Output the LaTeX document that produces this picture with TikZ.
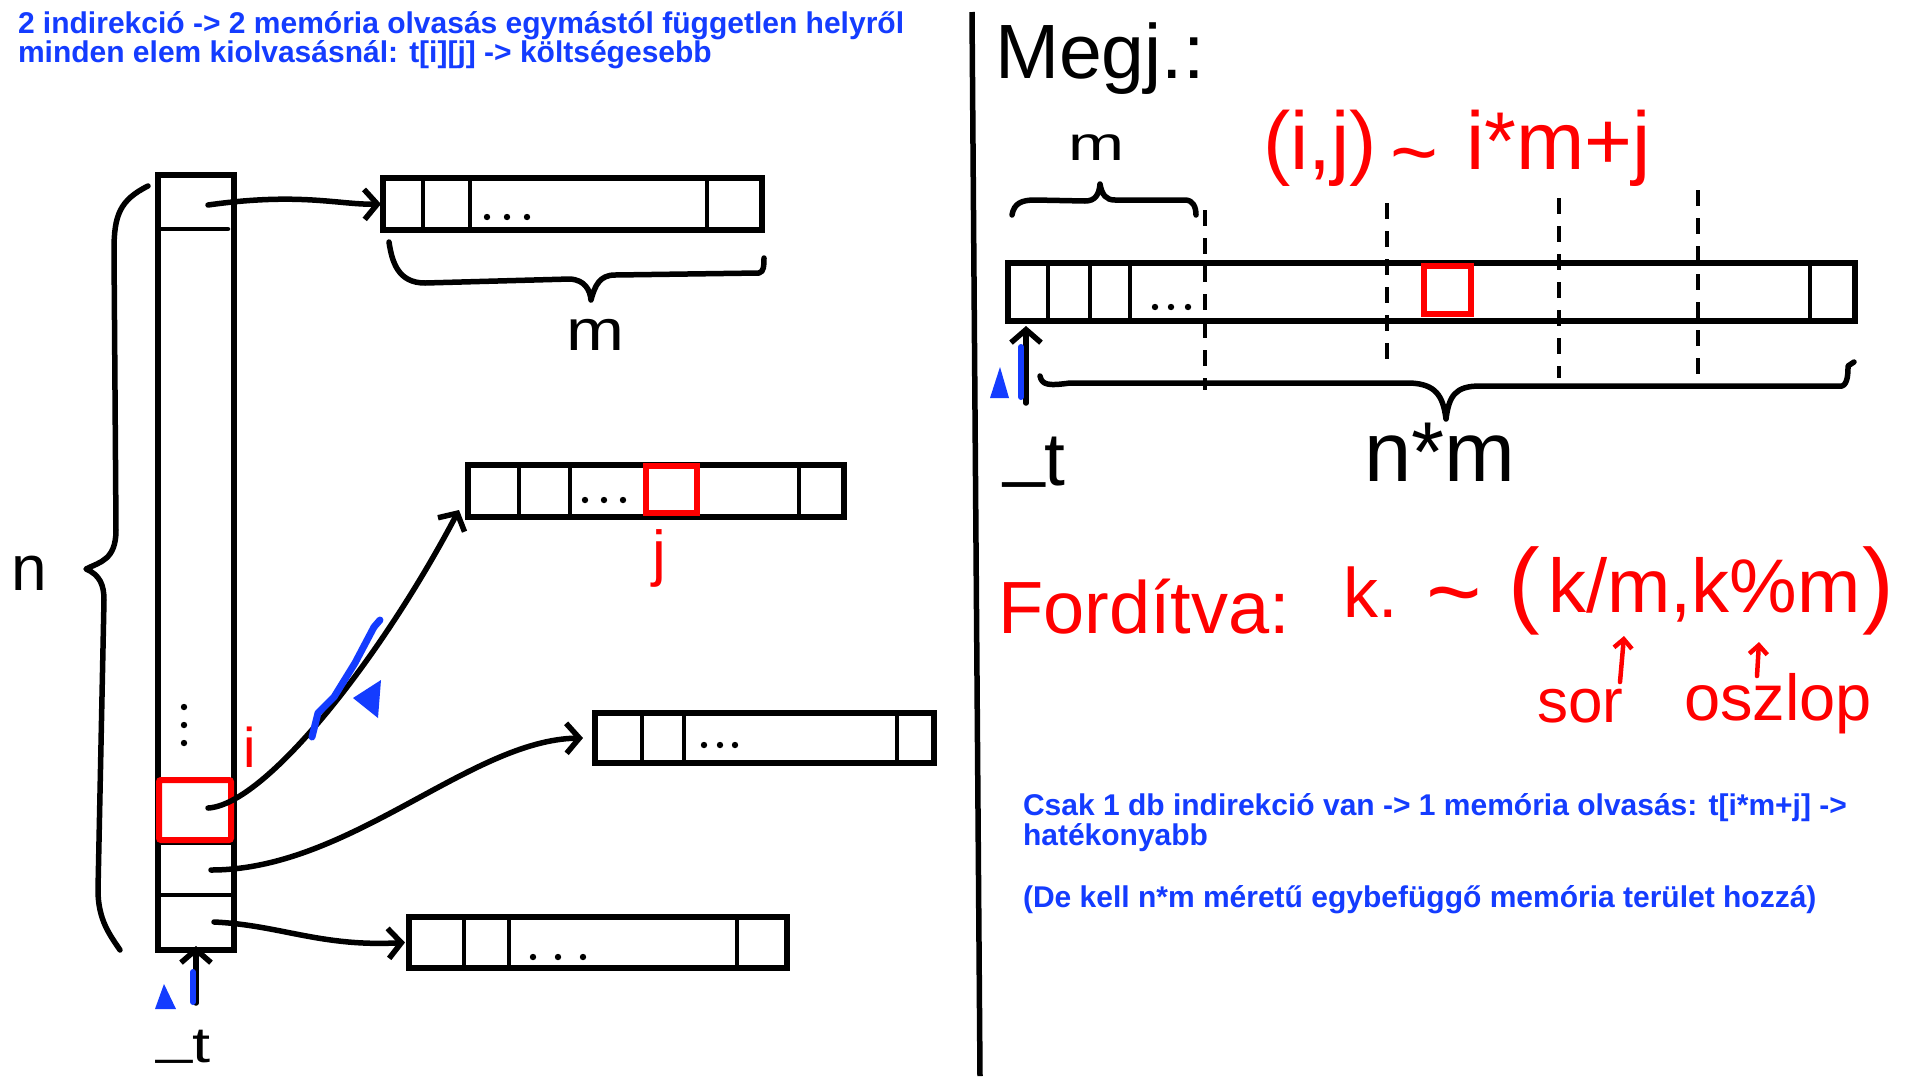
\documentclass[tikz,border=0pt]{standalone}
\usepackage{fontspec}
\usepackage{graphicx}
\setmainfont{Liberation Sans}
\usetikzlibrary{arrows.meta}
\definecolor{myblue}{RGB}{20,60,255}
\definecolor{myred}{RGB}{255,0,0}
\tikzset{
  ink/.style={line width=5.5pt, line cap=round, line join=round},
  arr/.style={draw, line width=6.5pt, inner sep=0pt, outer sep=0pt, anchor=north west},
  cell/.style={line width=4.5pt, line cap=round},
  ptr/.style={ink, -{Straight Barb[length=13pt,width=30pt]}},
  sptr/.style={line width=4.5pt, line cap=round, draw=myred, -{Straight Barb[length=9pt,width=18pt]}},
  hand/.style={inner sep=0pt, outer sep=0pt, anchor=base west},
  redbox/.style={draw=myred, line width=6pt},
  bluetxt/.style={text=myblue, font=\fontsize{30}{30}\selectfont\bfseries, inner sep=0pt, outer sep=0pt, anchor=base west},
  dashline/.style={line width=4.5pt, dash pattern=on 16pt off 12pt},
}
\newcommand{\fs}[1]{\fontsize{#1}{#1}\selectfont}
\newcommand{\ut}{\raisebox{0.17em}{\_}t}
\begin{document}
\begin{tikzpicture}[x=1pt,y=-1pt]
\useasboundingbox (0,0) rectangle (1920,1080);
\fill[white] (0,0) rectangle (1920,1080);

% ---------- titles ----------
\node[bluetxt] (title1) at (18,33) {2 indirekció -> 2 memória olvasás egymástól független helyről};
\node[bluetxt] (title2) at (18,62) {minden elem kiolvasásnál: t[i][j] -> költségesebb};

% ---------- divider ----------
\draw[line width=5.5pt] (972,12) -- (980,1076);

% ---------- pointer column ----------
\node[arr, minimum width=76pt, minimum height=775pt] (col) at (158,175) {};
\draw[cell] (158,229) -- (228,229);
\draw[cell] (159,843) -- (234,843);
\draw[cell] (159,895) -- (234,895);
\draw[redbox, rounded corners=2pt] (159,780) rectangle (231,840);
\foreach \y in {707,725,743} \fill (184,\y) circle (3.2);

% ---------- row arrays ----------
\node[arr, minimum width=379pt, minimum height=52pt] (a1) at (383,178) {};
\foreach \x in {423,470,707} \draw[cell] (\x,178) -- (\x,230);
\foreach \x in {487,507,527} \fill (\x,217) circle (3.2);

\node[arr, minimum width=376pt, minimum height=52pt] (a2) at (468,465) {};
\foreach \x in {519,570,799} \draw[cell] (\x,465) -- (\x,517);
\foreach \x in {585,604,623} \fill (\x,500) circle (3.2);
\draw[redbox] (646,466) rectangle (697,513);

\node[arr, minimum width=339pt, minimum height=50pt] (a3) at (595,713) {};
\foreach \x in {642,684,897} \draw[cell] (\x,713) -- (\x,763);
\foreach \x in {704,720,735} \fill (\x,745) circle (3.2);

\node[arr, minimum width=378pt, minimum height=51pt] (a4) at (409,917) {};
\foreach \x in {464,509,737} \draw[cell] (\x,917) -- (\x,968);
\foreach \x in {533,558,583} \fill (\x,957) circle (3.2);

% ---------- pointers ----------
\coordinate (p1) at (208,205);
\coordinate (p2) at (208,808);
\coordinate (p3) at (211,870);
\coordinate (p4) at (214,922);
\draw[ptr] (p1) .. controls (300,192) and (340,205) .. ([xshift=-2pt]a1.west);
\draw[ptr] (p2) .. controls (265,805) and (380,660) .. ([xshift=-9pt,yshift=7pt]a2.south west);
\draw[ptr] (p3) .. controls (350,870) and (470,740) .. ([xshift=-12pt]a3.west);
\draw[ptr] (p4) .. controls (280,925) and (320,947) .. ([xshift=-4pt]a4.west);

\draw[myblue, line width=7pt, line cap=round, line join=round] (312,737) -- (318,713) -- (334,697) -- (355,663) -- (374,627) -- (380,620);
\fill[myblue] (353,698) -- (381,680) -- (378,718) -- cycle;

% ---------- labels left ----------
\node[hand, text=myred, font=\fs{56}] (ilab) at (243,767) {i};
\node[hand, text=myred, font=\fs{62}] (jlab) at (652,574) {j};
\node[hand, font=\fs{64}] (nlab) at (12,590) {n};
\node[anchor=base, inner sep=0pt, font=\fs{58}] (mlab1) at (595,350) {\scalebox{1.2}[1]{m}};

% n brace
\draw[ink] (148,186) .. controls (120,200) and (114,215) .. (114,250) -- (116,530)
  .. controls (116,560) and (100,562) .. (86,569) .. controls (100,575) and (104,585) .. (104,600)
  -- (98,890) .. controls (98,920) and (110,935) .. (120,950);

% m brace under a1
\draw[ink] (389,242) .. controls (392,262) and (398,283) .. (425,283) -- (570,279)
  .. controls (585,280) and (590,290) .. (591,300) .. controls (595,285) and (600,275) .. (615,275)
  -- (759,273) .. controls (764,272) and (764,265) .. (764,258);

% t arrow left
\node[hand, font=\fs{50}] (tlab1) at (156,1062) {\scalebox{1.3}[1]{\ut}};
\coordinate (ta1) at (196,1003);
\draw[ptr, shorten >=-4pt] (ta1) -- (col.south);
\draw[myblue, line width=6pt, line cap=round] (193,972) -- (193,1002);
\fill[myblue] (164,984) -- (176,1009) -- (155,1009) -- cycle;

% ---------- right side ----------
\node[hand, font=\fs{77}] (megj) at (995,78) {Megj.:};
\node[hand, text=myred, font=\fs{82}] (ij) at (1263,169) {(i,j)};
\node[hand, text=myred, font=\fs{82}] (tld1) at (1390,180) {\textasciitilde};
\node[hand, text=myred, font=\fs{82}] (imj) at (1466,169) {i*m+j};

\node[arr, minimum width=847pt, minimum height=58pt] (ra) at (1008,263) {};
\foreach \x in {1048,1090,1130,1810} \draw[cell] (\x,263) -- (\x,321);
\foreach \x in {1155,1171,1188} \fill (\x,307) circle (3.2);
\draw[redbox] (1424,266) rectangle (1471,314);

\draw[dashline] (1205,210) -- (1205,390);
\draw[dashline] (1387,203) -- (1387,369);
\draw[dashline] (1559,198) -- (1559,378);
\draw[dashline] (1698,190) -- (1698,374);

% m brace top
\node[hand, font=\fs{48}] (mlab2) at (1068,160) {\scalebox{1.4}[1]{m}};
\draw[ink] (1012,215) .. controls (1014,203) and (1022,200) .. (1035,200) -- (1085,201)
  .. controls (1095,201) and (1099,195) .. (1100,184) .. controls (1102,195) and (1106,200) .. (1115,200)
  -- (1185,200) .. controls (1193,200) and (1196,207) .. (1196,215);

% n*m brace bottom
\draw[ink] (1040,376) .. controls (1042,385) and (1048,386) .. (1070,383) -- (1410,383)
  .. controls (1435,384) and (1443,395) .. (1446,419) .. controls (1449,396) and (1455,386) .. (1480,386)
  -- (1842,386) .. controls (1848,384) and (1848,372) .. (1848,366) -- (1854,362);
\node[hand, font=\fs{85}] (nm) at (1364,481) {n*m};

% t arrow right
\node[hand, font=\fs{75}] (tlab2) at (1003,485) {\ut};
\coordinate (ta2) at (1026,403);
\draw[ptr, shorten >=5pt] (ta2) -- ([xshift=18pt]ra.south west);
\draw[myblue, line width=6pt, line cap=round] (1021,347) -- (1021,397);
\fill[myblue] (1000,367) -- (1009,398) -- (990,398) -- cycle;

% Forditva
\node[hand, text=myred, font=\fs{74}] (ford) at (998,633) {Fordítva:};
\node[hand, text=myred, font=\fs{70}] (kk) at (1343,617) {k.};
\node[hand, text=myred, font=\fs{95}] (tld2) at (1426,624) {\textasciitilde};
\node[hand, text=myred, font=\fs{95}] (lp) at (1508,615) {(};
\node[hand, text=myred, font=\fs{76}] (km) at (1548,612) {k/m,k\%m};
\node[hand, text=myred, font=\fs{95}] (rp) at (1862,615) {)};

\node[hand, text=myred, font=\fs{62}] (sor) at (1537,722) {sor};
\node[hand, text=myred, font=\fs{65}] (oszlop) at (1684,720) {oszlop};
\coordinate (sa1) at (1620,682);
\coordinate (sa2) at (1624,636);
\coordinate (oa1) at (1757,676);
\coordinate (oa2) at (1759,642);
\draw[sptr] (sa1) -- (sa2);
\draw[sptr] (oa1) -- (oa2);

% blue notes
\node[bluetxt] (c1) at (1023,815) {Csak 1 db indirekció van -> 1 memória olvasás: t[i*m+j] ->};
\node[bluetxt] (c2) at (1023,845) {hatékonyabb};
\node[bluetxt] (c3) at (1023,907) {(De kell n*m méretű egybefüggő memória terület hozzá)};
\end{tikzpicture}
\end{document}
